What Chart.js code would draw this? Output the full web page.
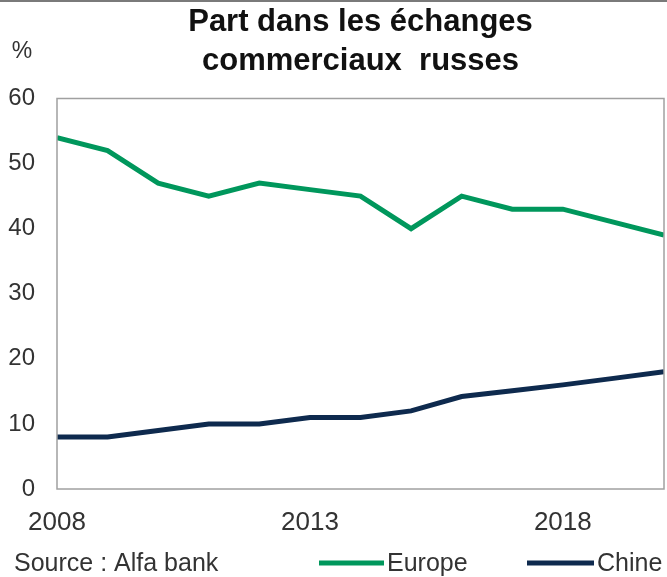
<!DOCTYPE html>
<html>
<head>
<meta charset="utf-8">
<script src="https://cdn.jsdelivr.net/npm/chart.js@4/dist/chart.umd.min.js"></script>
<style>
  html, body { margin: 0; padding: 0; background: #fff; }
  #wrap { width: 667px; height: 577px; position: relative; }
</style>
</head>
<body>
<div id="wrap"><canvas id="chartCanvas"></canvas></div>
<script>
const years = [2008, 2009, 2010, 2011, 2012, 2013, 2014, 2015, 2016, 2017, 2018, 2019, 2020];
const europe = [54, 52, 47, 45, 47, 46, 45, 40, 45, 43, 43, 41, 39];
const chine = [8, 8, 9, 10, 10, 11, 11, 12, 14.2, 15.1, 16, 17, 18];
const xTicks = [2008, 2013, 2018];
const yTicks = [0, 10, 20, 30, 40, 50, 60];

const GREEN = "#00975c";
const NAVY = "#0e2a4e";
const FONT = "'Liberation Sans', Arial, sans-serif";

// frame around the plot, % unit, source line, legend, top rule
const decorations = {
  id: "decorations",
  afterDraw(chart) {
    const { ctx, chartArea: a } = chart;
    ctx.save();
    ctx.strokeStyle = "#a0a0a0";
    ctx.lineWidth = 1.5;
    ctx.strokeRect(a.left, a.top, a.right - a.left, a.bottom - a.top);

    ctx.fillStyle = "#7a7a7a";
    ctx.fillRect(0, 0, chart.width, 2);

    ctx.fillStyle = "#333";
    ctx.font = "23px " + FONT;
    ctx.textAlign = "center";
    ctx.textBaseline = "middle";
    ctx.fillText("%", 22, 52);

    ctx.textAlign = "left";
    ctx.font = "25px " + FONT;
    ctx.fillText("Source : Alfa bank", 14, 564);

    const items = [
      { label: "Europe", color: GREEN, x0: 319, x1: 384 },
      { label: "Chine", color: NAVY, x0: 527, x1: 594 },
    ];
    items.forEach(it => {
      ctx.strokeStyle = it.color;
      ctx.lineWidth = 5;
      ctx.beginPath();
      ctx.moveTo(it.x0, 563);
      ctx.lineTo(it.x1, 563);
      ctx.stroke();
      ctx.fillStyle = "#333";
      ctx.fillText(it.label, it.x1 + 3, 564);
    });
    ctx.restore();
  },
};

new Chart(document.getElementById("chartCanvas"), {
  type: "line",
  data: {
    datasets: [
      {
        label: "Europe",
        data: years.map((y, i) => ({ x: y, y: europe[i] })),
        borderColor: GREEN,
        borderWidth: 5,
        pointRadius: 0,
        tension: 0,
      },
      {
        label: "Chine",
        data: years.map((y, i) => ({ x: y, y: chine[i] })),
        borderColor: NAVY,
        borderWidth: 5,
        pointRadius: 0,
        tension: 0,
      },
    ],
  },
  options: {
    responsive: true,
    maintainAspectRatio: false,
    animation: false,
    layout: { padding: { left: 0, right: 3, top: 0, bottom: 0 } },
    plugins: {
      legend: { display: false },
      tooltip: { enabled: false },
      title: {
        display: true,
        fullSize: false,
        text: ["Part dans les échanges", "commerciaux  russes"],
        color: "#111",
        font: { family: FONT, size: 31, weight: "bold", lineHeight: 1.25 },
        padding: { top: 3, bottom: 18 },
      },
    },
    scales: {
      x: {
        type: "linear",
        min: 2008,
        max: 2020,
        afterBuildTicks: s => { s.ticks = xTicks.map(v => ({ value: v })); },
        afterFit: s => { s.height = 88; },
        grid: { display: false },
        border: { display: false },
        ticks: {
          color: "#333",
          padding: 10,
          maxRotation: 0,
          font: { family: FONT, size: 26 },
          callback: v => String(v),
        },
      },
      y: {
        min: 0,
        max: 60,
        afterBuildTicks: s => { s.ticks = yTicks.map(v => ({ value: v })); },
        afterFit: s => { s.width = 57; },
        grid: { display: false },
        border: { display: false },
        ticks: {
          color: "#333",
          padding: 14,
          font: { family: FONT, size: 24 },
        },
      },
    },
  },
  plugins: [decorations],
});
</script>
</body>
</html>
